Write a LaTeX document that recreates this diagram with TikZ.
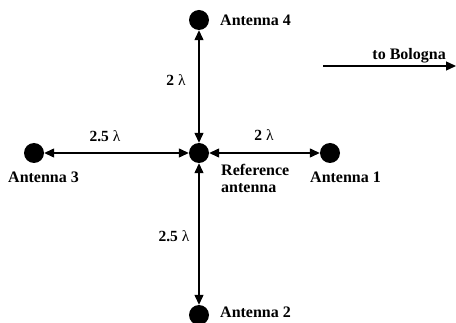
\documentclass[tikz,border=0pt]{standalone}
\usepackage{fontspec}
\setmainfont{Liberation Serif}
\usetikzlibrary{arrows.meta}
\begin{document}
\begin{tikzpicture}[x=1pt,y=-1pt,
  ant/.style={circle,fill=black,minimum size=20pt,inner sep=0pt},
  lbl/.style={font=\bfseries\fontsize{16}{17.5}\selectfont,inner sep=0pt},
  dim/.style={font=\bfseries\fontsize{15.5}{16}\selectfont,inner sep=0pt},
  conn/.style={line width=1.3pt,{Triangle[length=10pt,width=9pt]}-{Triangle[length=10pt,width=9pt]}},
  ]
\useasboundingbox (0,0) rectangle (456,323);
\node[ant] (ref) at (199,153) {};
\node[ant] (a4) at (199,20) {};
\node[ant] (a3) at (34,153) {};
\node[ant] (a1) at (330,153) {};
\node[ant] (a2) at (199,315) {};
\draw[conn] (a4) -- (ref);
\draw[conn] (a3) -- (ref);
\draw[conn] (ref) -- (a1);
\draw[conn] (ref) -- (a2);
\node[lbl,anchor=west] (t4) at (220,20) {Antenna 4};
\node[lbl,anchor=west] (t3) at (8,177) {Antenna 3};
\node[lbl,anchor=west] (t1) at (310,177) {Antenna 1};
\node[lbl,anchor=west] (t2) at (220,312) {Antenna 2};
\node[lbl,anchor=north west,align=left] (tr) at (221,164) {Reference\\antenna};
\node[dim] (d4) at (176,80) {2 {\mdseries λ}};
\node[dim] (d3) at (105,136) {2.5 {\mdseries λ}};
\node[dim] (d1) at (264,135) {2 {\mdseries λ}};
\node[dim] (d2) at (174,236) {2.5 {\mdseries λ}};
\coordinate (bs) at (323,66);
\coordinate (be) at (456,66);
\draw[line width=1.3pt,-{Triangle[length=10pt,width=9pt]}] (bs) -- (be);
\node[lbl,anchor=south east] (tb) at (446,63) {to Bologna};
\end{tikzpicture}
\end{document}
